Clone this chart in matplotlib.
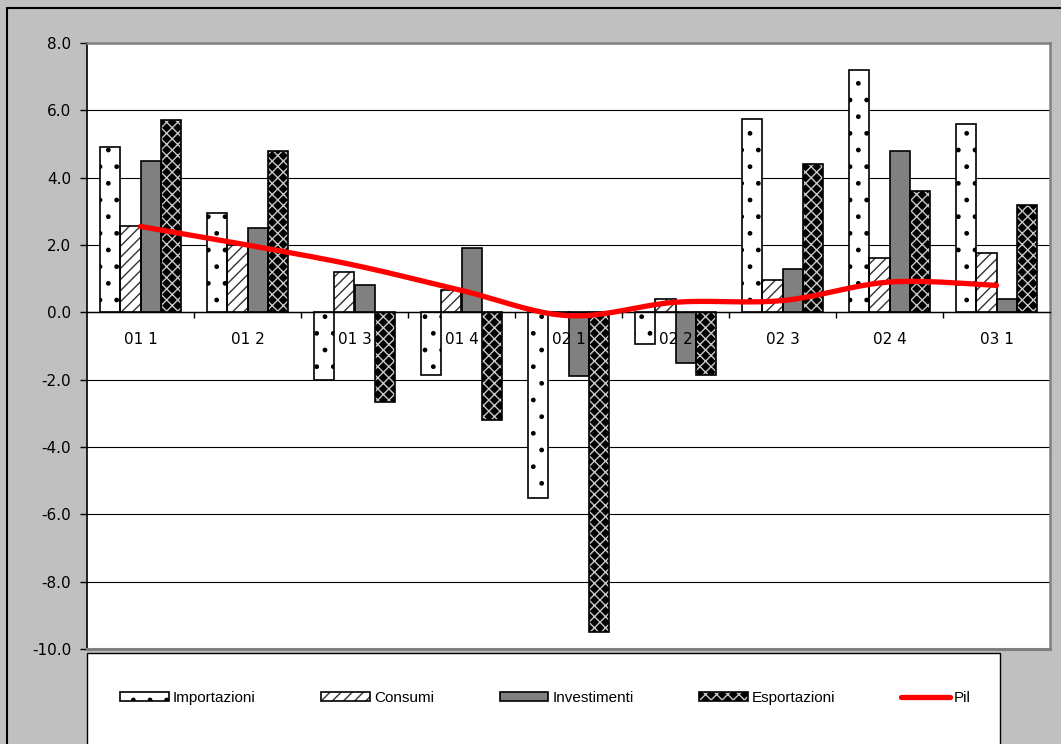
import numpy as np
import matplotlib
matplotlib.use("Agg")
import matplotlib.pyplot as plt
from matplotlib.patches import Patch, Rectangle
from matplotlib.lines import Line2D

# trimestri e variazioni percentuali
trimestri = ["01 1", "01 2", "01 3", "01 4", "02 1", "02 2", "02 3", "02 4", "03 1"]
importazioni = [4.9, 2.95, -2.0, -1.85, -5.5, -0.93, 5.75, 7.2, 5.6]
consumi = [2.55, 2.0, 1.2, 0.67, -0.05, 0.4, 0.95, 1.6, 1.75]
investimenti = [4.5, 2.5, 0.8, 1.9, -1.9, -1.5, 1.3, 4.8, 0.4]
esportazioni = [5.7, 4.8, -2.65, -3.2, -9.5, -1.85, 4.4, 3.6, 3.2]
pil = [2.55, 2.0, 1.4, 0.65, -0.1, 0.3, 0.35, 0.9, 0.8]

serie = ["Importazioni", "Consumi", "Investimenti", "Esportazioni"]
valori = [importazioni, consumi, investimenti, esportazioni]
# colore di fondo, trama, colore della trama
stili = [("white", ".", "black"),
         ("white", "///", "#333333"),
         ("#808080", "", "#808080"),
         ("black", "xxx", "#c8c8c8")]

plt.rcParams["font.family"] = "DejaVu Sans"
plt.rcParams["hatch.linewidth"] = 1.0


def curvaLiscia(xs, ys, passi=20):
    # spline tipo Catmull-Rom, come la linea smussata di Excel
    xs = np.asarray(xs, float)
    ys = np.asarray(ys, float)
    px, py = [], []
    n = len(xs)
    for i in range(n - 1):
        x0, y0 = xs[max(i - 1, 0)], ys[max(i - 1, 0)]
        x1, y1 = xs[i], ys[i]
        x2, y2 = xs[i + 1], ys[i + 1]
        x3, y3 = xs[min(i + 2, n - 1)], ys[min(i + 2, n - 1)]
        c1x, c1y = x1 + (x2 - x0) / 6, y1 + (y2 - y0) / 6
        c2x, c2y = x2 - (x3 - x1) / 6, y2 - (y3 - y1) / 6
        t = np.linspace(0, 1, passi)
        a, b, c, d = (1 - t) ** 3, 3 * (1 - t) ** 2 * t, 3 * (1 - t) * t ** 2, t ** 3
        px.extend(a * x1 + b * c1x + c * c2x + d * x2)
        py.extend(a * y1 + b * c1y + c * c2y + d * y2)
    return np.array(px), np.array(py)


W, H = 1061, 744
fig = plt.figure(figsize=(W / 100, H / 100), dpi=100)
fig.patch.set_facecolor("#c0c0c0")

# cornice esterna
fig.patches.append(Rectangle((7 / W, -0.1), 1.2, 1 - 8 / H + 0.1, transform=fig.transFigure,
                             fill=False, edgecolor="black", linewidth=1.5, clip_on=False))
# riquadro della legenda
fig.patches.append(Rectangle((87 / W, -0.1), (1000 - 87) / W, 1 - 653 / H + 0.1,
                             transform=fig.transFigure, facecolor="white",
                             edgecolor="black", linewidth=1.0))

ax = fig.add_axes([87 / W, 1 - 649 / H, (1050 - 87) / W, (649 - 43) / H])
ax.set_facecolor("white")

x = np.arange(len(trimestri))
larghezza = 0.187
for k, (nome, val, (fc, tr, hc)) in enumerate(zip(serie, valori, stili)):
    pos = x + (k - 1.5) * larghezza
    ax.bar(pos, val, larghezza, color=fc, hatch=tr, edgecolor=hc, linewidth=0, zorder=2)
    ax.bar(pos, val, larghezza, fill=False, edgecolor="black", linewidth=1.2, zorder=3)

cx, cy = curvaLiscia(x, pil)
ax.plot(cx, cy, color="red", linewidth=3.8, solid_capstyle="round", zorder=4)

ax.set_xlim(-0.5, len(trimestri) - 0.5)
ax.set_ylim(-10, 8)
ygrid = np.arange(-10, 9, 2)
ax.set_yticks(ygrid)
ax.set_yticklabels(["%.1f" % v for v in ygrid])
ax.tick_params(axis="y", direction="out", length=5, width=1, labelsize=11, pad=6.5)
# griglia sotto le barre
for yv in ygrid:
    ax.axhline(yv, color="black", linewidth=0.8, zorder=1)

ax.set_xticks(x)
ax.set_xticklabels(trimestri)
ax.set_xticks(x[:-1] + 0.5, minor=True)
ax.tick_params(axis="x", which="major", length=0, labelsize=11, pad=14)
ax.tick_params(axis="x", which="minor", direction="out", length=4, width=1)
ax.xaxis.set_zorder(6)  # etichette dei trimestri sopra le barre

ax.spines["bottom"].set_position(("data", 0))
ax.spines["bottom"].set_color("black")
ax.spines["bottom"].set_linewidth(1.0)
ax.spines["left"].set_color("black")
ax.spines["left"].set_linewidth(1.2)
for lato in ["top", "right"]:
    ax.spines[lato].set_color("#808080")
    ax.spines[lato].set_linewidth(1.8)
ax.axhline(-10, color="#808080", linewidth=2.2, zorder=5, clip_on=False)

# legenda
maniglie = []
for fc, tr, hc in stili:
    maniglie.append((Patch(facecolor=fc, hatch=tr, edgecolor=hc, linewidth=0),
                     Patch(fill=False, edgecolor="black", linewidth=1.2)))
maniglie.append(Line2D([], [], color="red", linewidth=3.8, solid_capstyle="round"))
fig.legend(maniglie, serie + ["Pil"], loc="center left",
           bbox_to_anchor=(120 / W, 1 - 698 / H), ncol=5, frameon=False,
           prop={"family": "Liberation Sans", "size": 11},
           handlelength=3.2, handleheight=0.6, handletextpad=0.25,
           columnspacing=4.3, borderpad=0, borderaxespad=0)

fig.savefig("out.png", dpi=100, facecolor=fig.get_facecolor())
